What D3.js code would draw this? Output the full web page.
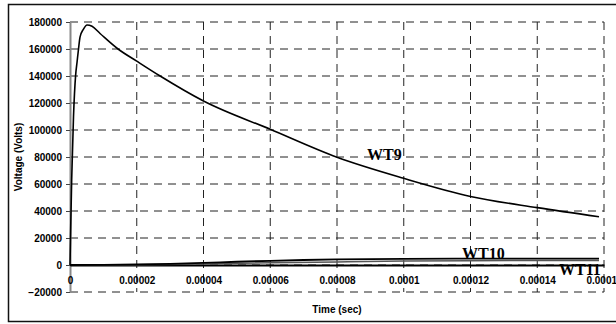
<!DOCTYPE html>
<html>
<head>
<meta charset="utf-8">
<script src="https://cdn.jsdelivr.net/npm/d3@7"></script>
<style>
  body { margin: 0; background: #fff; }
  svg { display: block; }
  .tick text { font-family: "Liberation Sans", Arial, sans-serif; font-weight: bold; font-size: 10px; fill: #000; }
</style>
</head>
<body>
<svg id="chart"></svg>
<script>
const width = 616;
const height = 324;

// time (s) / voltage (V)
const wt9Time = [0, 0.00000015, 0.0000005, 0.00000105, 0.0000017, 0.0000021, 0.00000255, 0.000003, 0.000004, 0.0000051,
    0.0000066, 0.000009, 0.0000144, 0.00002, 0.000027, 0.00004, 0.00006, 0.00008, 0.0001, 0.00012, 0.00014, 0.0001585];
const wt9Volts = [0, 20000, 63000, 110000, 141000, 150000, 160000, 168800, 174600, 177800,
    176800, 171500, 160000, 151000, 140000, 121500, 100500, 79800, 64200, 50800, 42500, 35800];

const wt10Time = [0, 0.00001, 0.00002, 0.00003, 0.00004, 0.00005, 0.00006, 0.00007, 0.00008, 0.00009, 0.0001, 0.00012, 0.00014, 0.0001585];
const wt10Volts = [0, 100, 400, 900, 1600, 2400, 3100, 3700, 4100, 4400, 4600, 4700, 4750, 4750];

const wt11Time = [0, 0.00002, 0.00004, 0.00006, 0.00008, 0.0001, 0.00012, 0.00014, 0.0001585];
const wt11Volts = [0, 200, 800, 1600, 2300, 2900, 3200, 3300, 3300];

const xTicks = [0, 0.00002, 0.00004, 0.00006, 0.00008, 0.0001, 0.00012, 0.00014, 0.00016];
const xTickLabels = ["0", "0.00002", "0.00004", "0.00006", "0.00008", "0.0001", "0.00012", "0.00014", "0.00016"];
const yTicks = [-20000, 0, 20000, 40000, 60000, 80000, 100000, 120000, 140000, 160000, 180000];

const svg = d3.select("#chart").attr("width", width).attr("height", height);

// outer frame
svg.append("rect")
    .attr("x", 8.5).attr("y", 4.5)
    .attr("width", 612).attr("height", 317)
    .attr("fill", "none")
    .attr("stroke", "#111")
    .attr("stroke-width", 1.5);

const x = d3.scaleLinear().domain([0, 0.00016]).range([70, 604]);
const y = d3.scaleLinear().domain([-20000, 180000]).range([292, 22]);

// grid
svg.append("g")
    .selectAll("line")
    .data(yTicks)
    .enter()
    .append("line")
    .attr("x1", x(0)).attr("x2", x(0.00016))
    .attr("y1", d => y(d)).attr("y2", d => y(d))
    .attr("stroke", "#222")
    .attr("stroke-dasharray", "8,6");

svg.append("g")
    .selectAll("line")
    .data(xTicks.slice(1))
    .enter()
    .append("line")
    .attr("x1", d => x(d)).attr("x2", d => x(d))
    .attr("y1", y(180000)).attr("y2", y(-20000))
    .attr("stroke", "#222")
    .attr("stroke-dasharray", "8,6");

// y axis
const yAxis = svg.append("g")
    .attr("transform", `translate(${x(0)},0)`)
    .call(d3.axisLeft(y).tickValues(yTicks).tickFormat(d3.format("d")).tickSizeInner(4).tickSizeOuter(0).tickPadding(4));
yAxis.select(".domain").attr("stroke", "#888").attr("stroke-width", 2);
yAxis.selectAll(".tick line").attr("stroke", "#444");

// x axis sits on the zero line
const xAxis = svg.append("g")
    .attr("transform", `translate(0,${y(0)})`)
    .call(d3.axisBottom(x).tickValues(xTicks).tickFormat((d, i) => xTickLabels[i]).tickSize(0).tickPadding(12));
xAxis.select(".domain").attr("stroke", "#000").attr("stroke-width", 2);

// axis titles
svg.append("text")
    .attr("x", (x(0) + x(0.00016)) / 2)
    .attr("y", 313)
    .attr("text-anchor", "middle")
    .attr("font-family", "Liberation Sans, Arial, sans-serif")
    .attr("font-weight", "bold")
    .attr("font-size", 10)
    .text("Time (sec)");

svg.append("text")
    .attr("transform", `translate(22,${(y(180000) + y(-20000)) / 2}) rotate(-90)`)
    .attr("text-anchor", "middle")
    .attr("font-family", "Liberation Sans, Arial, sans-serif")
    .attr("font-weight", "bold")
    .attr("font-size", 10)
    .text("Voltage (Volts)");

// series
const line = d3.line()
    .x(d => x(d[0]))
    .y(d => y(d[1]))
    .curve(d3.curveMonotoneX);

function drawSeries(times, volts, color, w) {
    svg.append("path")
        .datum(times.map((t, i) => [t, volts[i]]))
        .attr("d", line)
        .attr("fill", "none")
        .attr("stroke", color)
        .attr("stroke-width", w);
}
drawSeries(wt11Time, wt11Volts, "#555", 1.5);
drawSeries(wt10Time, wt10Volts, "#000", 1.8);
drawSeries(wt9Time, wt9Volts, "#000", 1.6);

// series labels
function seriesLabel(txt, px, py) {
    svg.append("text")
        .attr("x", px).attr("y", py)
        .attr("font-family", "Liberation Serif, Times New Roman, serif")
        .attr("font-weight", "bold")
        .attr("font-size", 16)
        .text(txt);
}
seriesLabel("WT9", 367, 160);
seriesLabel("WT10", 462, 259);
seriesLabel("WT11", 559, 275);
</script>
</body>
</html>
